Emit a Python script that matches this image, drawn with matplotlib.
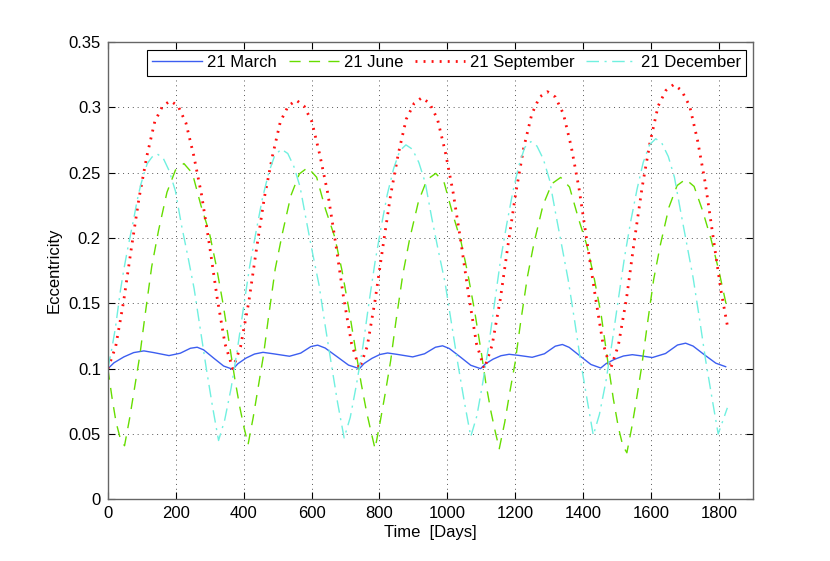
import matplotlib
matplotlib.use('Agg')
import matplotlib.pyplot as plt

plt.rcParams['font.family'] = ['Liberation Sans', 'DejaVu Sans']

# ---- data ----
labels = ['21 March', '21 June', '21 September', '21 December']

t_mar = [0, 18, 47, 76, 106, 135, 180, 213, 243, 263, 282, 312, 341, 368,
         383, 407, 432, 457, 487, 535, 568, 598, 618, 640, 676, 709, 741,
         755, 778, 801, 824, 853, 898, 933, 965, 986, 1006, 1039, 1069, 1098,
         1112, 1135, 1158, 1182, 1209, 1250, 1286, 1318, 1339, 1359, 1392, 1423, 1452,
         1468, 1493, 1519, 1545, 1568, 1604, 1643, 1678, 1702, 1724, 1758, 1791, 1820]
e_mar = [0.100, 0.1045, 0.109, 0.1123, 0.1136, 0.1123, 0.110, 0.1118, 0.1156, 0.1164, 0.1144, 0.108, 0.102, 0.0995,
         0.1038, 0.1081, 0.1112, 0.1125, 0.1114, 0.1095, 0.1119, 0.1169, 0.118, 0.1158, 0.109, 0.1027, 0.100,
         0.104, 0.1079, 0.1108, 0.112, 0.1109, 0.109, 0.1114, 0.1164, 0.1175, 0.1154, 0.1088, 0.1026, 0.100,
         0.1036, 0.1073, 0.1099, 0.111, 0.1102, 0.1087, 0.1114, 0.1172, 0.1185, 0.1163, 0.1095, 0.1032, 0.1005,
         0.1039, 0.1072, 0.1097, 0.1107, 0.1099, 0.1085, 0.1116, 0.1181, 0.1195, 0.1173, 0.1105, 0.1042, 0.1015]

t_jun = [0, 12, 24, 36,
         49, 64, 79, 94, 109, 129, 149, 174, 199, 224,
         249, 274, 299, 319, 339, 359, 374, 389, 401,
         413, 428, 443, 458, 473, 493, 514, 539, 564, 589,
         615, 641, 668, 689, 709, 730, 746, 762, 775,
         787, 802, 818, 833, 848, 869, 889, 915, 940, 966,
         991, 1016, 1040, 1060, 1080, 1100, 1114, 1129, 1141,
         1153, 1169, 1184, 1200, 1215, 1236, 1256, 1282, 1308, 1334,
         1360, 1386, 1411, 1432, 1453, 1473, 1489, 1504, 1517,
         1529, 1544, 1559, 1573, 1588, 1608, 1628, 1653, 1677, 1702,
         1727, 1752, 1777, 1800, 1825]
e_jun = [0.100, 0.078, 0.059, 0.047,
         0.041, 0.062, 0.086, 0.110, 0.140, 0.178, 0.2055, 0.235, 0.252, 0.257,
         0.2495, 0.225, 0.204, 0.179, 0.150, 0.117, 0.092, 0.070, 0.055,
         0.042, 0.0626, 0.0861, 0.1096, 0.1391, 0.1764, 0.2035, 0.2324, 0.2491, 0.254,
         0.2465, 0.2221, 0.201, 0.176, 0.147, 0.114, 0.089, 0.067, 0.052,
         0.0387, 0.0591, 0.0825, 0.106, 0.1352, 0.1723, 0.1993, 0.228, 0.2447, 0.2495,
         0.2421, 0.2183, 0.1976, 0.1732, 0.1447, 0.1125, 0.088, 0.0665, 0.052,
         0.0387, 0.0588, 0.0819, 0.105, 0.1338, 0.1704, 0.197, 0.2252, 0.2416, 0.2464,
         0.239, 0.2152, 0.1945, 0.1701, 0.1416, 0.105, 0.077, 0.055, 0.041,
         0.0356, 0.0559, 0.0792, 0.1024, 0.1315, 0.1684, 0.1952, 0.2236, 0.2402, 0.245,
         0.2395, 0.221, 0.199, 0.175, 0.145]

t_sep = [0, 23, 46, 69, 92, 115, 138, 161, 184, 207, 230, 253, 276, 299, 322, 345, 368,
         391, 415, 438, 461, 485, 508, 531, 555, 578, 601, 624, 648, 671, 694, 718, 741,
         764, 787, 810, 833, 856, 879, 902, 925, 948, 971, 994, 1017, 1040, 1063, 1086, 1109,
         1132, 1156, 1179, 1202, 1225, 1249, 1272, 1295, 1318, 1342, 1365, 1388, 1411, 1435, 1458, 1481,
         1504, 1528, 1551, 1574, 1597, 1621, 1644, 1667, 1690, 1714, 1737, 1760, 1783, 1806, 1825]
e_sep = [0.100, 0.117, 0.151, 0.192, 0.231, 0.263, 0.289, 0.301, 0.305, 0.301, 0.288, 0.263, 0.233, 0.195, 0.154, 0.119, 0.100,
         0.117, 0.151, 0.192, 0.231, 0.263, 0.289, 0.301, 0.3055, 0.301, 0.289, 0.264, 0.234, 0.196, 0.155, 0.119, 0.100,
         0.117, 0.152, 0.193, 0.233, 0.265, 0.291, 0.303, 0.3075, 0.303, 0.291, 0.266, 0.235, 0.197, 0.156, 0.119, 0.100,
         0.118, 0.153, 0.195, 0.235, 0.269, 0.295, 0.308, 0.312, 0.308, 0.295, 0.270, 0.238, 0.198, 0.157, 0.120, 0.100,
         0.118, 0.154, 0.198, 0.239, 0.273, 0.301, 0.313, 0.3175, 0.313, 0.301, 0.275, 0.242, 0.201, 0.160, 0.133]

t_dec = [0, 12, 22, 37, 47, 57, 67, 77, 86, 96, 106, 116, 130, 145,
         163, 181, 199, 217, 236, 254, 272, 290, 308, 326,
         344, 363, 381, 400, 418, 437, 455, 474, 492, 511,
         530, 548, 566, 585, 603, 622, 640, 659, 677, 696,
         714, 732, 751, 769, 787, 805, 823, 842, 860, 878,
         897, 916, 935, 954, 973, 993, 1012, 1031, 1050, 1069,
         1087, 1104, 1122, 1140, 1157, 1175, 1193, 1211, 1228, 1246,
         1264, 1283, 1301, 1320, 1338, 1356, 1375, 1393, 1412, 1430,
         1448, 1467, 1485, 1504, 1522, 1540, 1559, 1577, 1596, 1614,
         1632, 1651, 1669, 1688, 1706, 1724, 1743, 1761, 1780, 1798, 1825]
e_dec = [0.100, 0.116, 0.131, 0.160, 0.176, 0.190, 0.203, 0.216, 0.2285, 0.240, 0.249, 0.257, 0.262, 0.2644,
         0.2611, 0.2512, 0.2359, 0.2096, 0.1854, 0.1613, 0.1306, 0.100, 0.0713, 0.045,
         0.0606, 0.0851, 0.1141, 0.1476, 0.1788, 0.2056, 0.2301, 0.2502, 0.2635, 0.268,
         0.2647, 0.2547, 0.2393, 0.2128, 0.1884, 0.1641, 0.1332, 0.1023, 0.0735, 0.047,
         0.0627, 0.0874, 0.1165, 0.1502, 0.1816, 0.2085, 0.2332, 0.2534, 0.2668, 0.2713,
         0.268, 0.2579, 0.2423, 0.2155, 0.1909, 0.1663, 0.1351, 0.1038, 0.0748, 0.048,
         0.0638, 0.0886, 0.118, 0.1519, 0.1835, 0.2106, 0.2354, 0.2557, 0.2693, 0.2738,
         0.2704, 0.2603, 0.2446, 0.2176, 0.1929, 0.1681, 0.1367, 0.1052, 0.076, 0.049,
         0.0649, 0.0899, 0.1194, 0.1534, 0.1852, 0.2124, 0.2374, 0.2578, 0.2715, 0.276,
         0.2726, 0.2624, 0.2466, 0.2195, 0.1946, 0.1698, 0.1381, 0.1065, 0.0771, 0.050, 0.070]

x_ticks = [0, 200, 400, 600, 800, 1000, 1200, 1400, 1600, 1800]
y_ticks = [0, 0.05, 0.1, 0.15, 0.2, 0.25, 0.3, 0.35]
y_tick_labels = ['0', '0.05', '0.1', '0.15', '0.2', '0.25', '0.3', '0.35']

# ---- figure ----
fig = plt.figure(figsize=(8.3, 5.61), dpi=100)
ax = fig.add_axes([0.13, 0.11, 0.777, 0.815])

ax.plot(t_mar, e_mar, color='#3c5ef0', lw=1.0, label=labels[0])
ax.plot(t_jun, e_jun, color='#66dd00', lw=1.0, dashes=(8, 6), label=labels[1])
ax.plot(t_sep, e_sep, color='#ff1010', lw=2.0, linestyle=(0, (0.7, 2.2)), label=labels[2])
ax.plot(t_dec, e_dec, color='#70f0e0', lw=1.0, linestyle=(0, (9, 4, 1.5, 4)), label=labels[3])

ax.set_xlim(0, 1900)
ax.set_ylim(0, 0.35)
ax.set_xticks(x_ticks)
ax.set_yticks(y_ticks)
ax.set_yticklabels(y_tick_labels)
ax.grid(True, color='#555555', linestyle=(0, (1, 4)), lw=0.7)
ax.tick_params(direction='in', top=True, right=True, length=5, width=0.8,
               labelsize=12, colors='black', pad=5)
for s in ax.spines.values():
    s.set_color('#666666')
    s.set_linewidth(1.0)

ax.set_xlabel('Time  [Days]', fontsize=12, labelpad=3)
ax.set_ylabel('Eccentricity', fontsize=12, labelpad=5)

leg = ax.legend(loc='upper right', bbox_to_anchor=(0.99, 0.983), borderaxespad=0,
                ncol=4, fontsize=12, handlelength=3.0, handletextpad=0.3,
                columnspacing=0.7, borderpad=0.32, fancybox=False, framealpha=1)
leg.get_frame().set_edgecolor('black')
leg.get_frame().set_linewidth(0.8)

fig.savefig('out.png', dpi=100)
